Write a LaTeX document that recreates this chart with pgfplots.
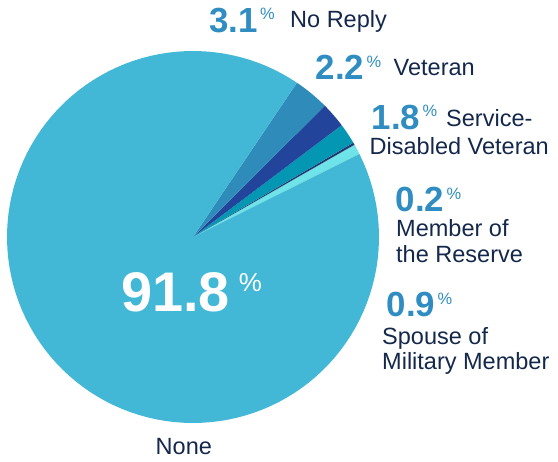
\documentclass[border=0pt]{standalone}
\usepackage{pgfplots}
\pgfplotsset{compat=1.18}
\usepackage{fontspec}
\setmainfont{Liberation Sans}
\definecolor{cNone}{HTML}{42B8D6}
\definecolor{cNoReply}{HTML}{2F8BBA}
\definecolor{cVet}{HTML}{22449A}
\definecolor{cSDV}{HTML}{0497B4}
\definecolor{cRes}{HTML}{27356E}
\definecolor{cSpouse}{HTML}{6EE3E8}
\definecolor{cNum}{HTML}{2F8DC2}
\definecolor{cLab}{HTML}{14284B}
% data (percent)
\def\pSpouse{0.9}
\def\pReserve{0.2}
\def\pSDV{1.8}
\def\pVet{2.2}
\def\pNoReply{3.1}
\def\pNone{91.8}
\pgfmathsetmacro\aA{26.5}
\pgfmathsetmacro\aB{\aA+3.6*\pSpouse}
\pgfmathsetmacro\aC{\aB+3.6*\pReserve}
\pgfmathsetmacro\aD{\aC+3.6*\pSDV}
\pgfmathsetmacro\aE{\aD+3.6*\pVet}
\pgfmathsetmacro\aF{\aE+3.6*\pNoReply}
\pgfmathsetmacro\aG{\aF+3.6*\pNone}
\newcommand\slice[3]{\addplot[fill=#1, draw=none, domain=#2:#3, samples=120] ({193+186*cos(x)},{225+186*sin(x)}) -- (axis cs:193,225) -- cycle;}
\newcommand\bignum[1]{{\fontsize{35}{35}\selectfont\bfseries #1}\kern2.5bp\raisebox{12.5bp}{\fontsize{16.5}{16.5}\selectfont\%}}
\tikzset{lab/.style={anchor=base west, inner sep=0pt, text=cLab, font=\fontsize{23.6}{26}\selectfont},
num/.style={anchor=base west, inner sep=0pt, text=cNum}}
\begin{document}
\begin{tikzpicture}
\useasboundingbox (0,0) rectangle (558bp,462bp);
\begin{axis}[width=558bp, height=462bp, scale only axis, at={(0,0)}, anchor=south west,
  xmin=0, xmax=558, ymin=0, ymax=462, hide axis, clip=false]
\slice{cSpouse}{\aA}{\aB}
\slice{cRes}{\aB}{\aC}
\slice{cSDV}{\aC}{\aD}
\slice{cVet}{\aD}{\aE}
\slice{cNoReply}{\aE}{\aF}
\slice{cNone}{\aF}{\aG}
% labels
\node[num] at (axis cs:209,{462-32.5}) {\bignum{\pNoReply}};
\node[lab] at (axis cs:290,{462-27.5}) {No Reply};
\node[num] at (axis cs:315.5,{462-80}) {\bignum{\pVet}};
\node[lab] at (axis cs:393.5,{462-76}) {Veteran};
\node[num] at (axis cs:371.5,{462-129.3}) {\bignum{\pSDV}};
\node[lab] at (axis cs:446,{462-126.7}) {Service-};
\node[lab] at (axis cs:369.5,{462-155}) {Disabled Veteran};
\node[num] at (axis cs:395.5,{462-211.7}) {\bignum{0.2}};
\node[lab] at (axis cs:396,{462-236.7}) {Member of};
\node[lab] at (axis cs:396,{462-263}) {the Reserve};
\node[num] at (axis cs:386.5,{462-316.7}) {\bignum{\pSpouse}};
\node[lab] at (axis cs:382,{462-345}) {Spouse of};
\node[lab] at (axis cs:382,{462-370}) {Military Member};
\node[lab] at (axis cs:155.5,{462-454.5}) {None};
\node[anchor=base west, inner sep=0pt, text=white] at (axis cs:121,{462-311.7})
  {{\fontsize{56}{56}\selectfont\bfseries \pNone}\kern9bp\raisebox{20bp}{\fontsize{26}{26}\selectfont\%}};
\end{axis}
\end{tikzpicture}
\end{document}
